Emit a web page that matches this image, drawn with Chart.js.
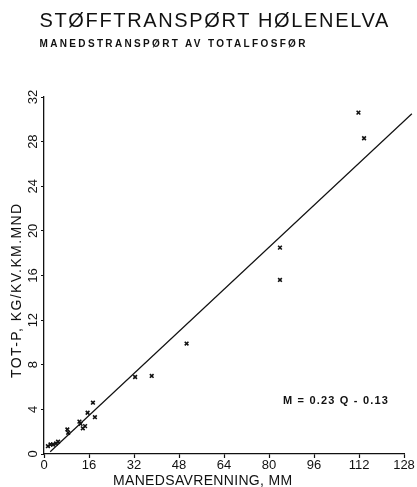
<!DOCTYPE html>
<html>
<head>
<meta charset="utf-8">
<script src="https://cdn.jsdelivr.net/npm/chart.js@4.4.0/dist/chart.umd.min.js"></script>
<style>
  html, body { margin: 0; padding: 0; background: #fff; }
  #wrap { position: relative; width: 417px; height: 487px; overflow: hidden; background: #fff; }
  #chart { position: absolute; left: 0; top: 0; }
  .txt { position: absolute; white-space: pre; color: #111; line-height: 1;
         font-family: "Liberation Sans", Arial, sans-serif; }
</style>
</head>
<body>
<div id="wrap">
  <canvas id="chart" width="417" height="487"></canvas>
  <div class="txt" id="title">STØFFTRANSPØRT HØLENELVA</div>
  <div class="txt" id="subtitle">MANEDSTRANSPØRT AV TOTALFOSFØR</div>
  <div class="txt" id="ytitle">TOT-P, KG/KV.KM.MND</div>
  <div class="txt" id="xtitle">MANEDSAVRENNING, MM</div>
  <div class="txt" id="formula">M = 0.23 Q - 0.13</div>
</div>
<script>
// monthly runoff (mm) and total phosphorus transport (kg/km2 per month)
const avrenning = [111.8, 113.8, 83.9, 83.9, 50.7, 38.3, 32.4, 17.4, 15.5, 18.1,
                   12.6, 13.0, 14.6, 13.8, 8.3, 8.6, 1.4, 2.3, 3.2, 4.3, 5.0];
const fosfor    = [30.6, 28.3, 18.5, 15.6, 9.9, 7.0, 6.9, 4.6, 3.7, 3.3,
                   2.9, 2.7, 2.5, 2.3, 2.2, 1.9, 0.7, 0.85, 0.85, 0.95, 1.1];

// regression line end points, as drawn
const linjeQ = [2.2, 130.8];
const linjeM = [0.2, 30.5];

const xTicks = [0, 16, 32, 48, 64, 80, 96, 112, 128];
const yTicks = [0, 4, 8, 12, 16, 20, 24, 28, 32];

const ink = '#111';
const tickFont = { family: '"Liberation Sans", Arial, sans-serif', size: 13 };

const punkter = avrenning.map((q, i) => ({ x: q, y: fosfor[i] }));
const linje = linjeQ.map((q, i) => ({ x: q, y: linjeM[i] }));

new Chart(document.getElementById('chart'), {
    type: 'scatter',
    data: {
        datasets: [{
            label: 'Månedstransport',
            data: punkter,
            pointStyle: 'crossRot',
            pointRadius: 2.6,
            borderWidth: 1.6,
            borderColor: ink,
            backgroundColor: ink
        }, {
            type: 'line',
            label: 'M = 0.23 Q - 0.13',
            data: linje,
            borderColor: ink,
            borderWidth: 1.2,
            pointRadius: 0,
            fill: false,
            clip: false
        }]
    },
    options: {
        responsive: false,
        animation: false,
        devicePixelRatio: 1,
        layout: { padding: { left: 0, right: 13, top: 97, bottom: 0 } },
        plugins: { legend: { display: false }, tooltip: { enabled: false } },
        scales: {
            x: {
                type: 'linear', min: 0, max: 128,
                afterBuildTicks: s => { s.ticks = xTicks.map(v => ({ value: v })); },
                afterFit: s => { s.height = 33; },
                border: { color: ink, width: 1.3 },
                grid: { drawOnChartArea: false, tickLength: 4, color: ink, tickWidth: 1.2 },
                ticks: { color: ink, font: tickFont, padding: 0, minRotation: 0, maxRotation: 0 }
            },
            y: {
                type: 'linear', min: 0, max: 32,
                afterBuildTicks: s => { s.ticks = yTicks.map(v => ({ value: v })); },
                afterFit: s => { s.width = 44; },
                border: { color: ink, width: 1.3 },
                grid: { drawOnChartArea: false, tickLength: 3, color: ink, tickWidth: 1.2 },
                ticks: { color: ink, font: tickFont, padding: 0, minRotation: 90, maxRotation: 90, crossAlign: 'center' }
            }
        }
    }
});

// place the texts, stretching letter spacing to the widths of the original
function place(id, o) {
    const el = document.getElementById(id);
    el.style.fontSize = o.size + 'px';
    if (o.bold) el.style.fontWeight = 'bold';
    const n = el.textContent.length;
    const w0 = el.offsetWidth;
    const ls = (o.width - w0) / (n - 1);
    el.style.letterSpacing = ls + 'px';
    if (o.rotate) {
        el.style.transformOrigin = '0 0';
        el.style.transform = 'rotate(-90deg)';
        el.style.left = (o.cx - o.size / 2) + 'px';
        el.style.top = (o.cy + o.width / 2) + 'px';
    } else {
        el.style.left = o.left + 'px';
        el.style.top = o.top + 'px';
    }
}

place('title',    { left: 39.5, top: 10.4, width: 349, size: 20 });
place('subtitle', { left: 39.5, top: 38.8, width: 266, size: 10, bold: true });
place('xtitle',   { left: 113,  top: 473,  width: 179, size: 14 });
place('ytitle',   { cx: 16, cy: 291, width: 174, size: 14, rotate: true });
place('formula',  { left: 283,  top: 395,  width: 105, size: 11, bold: true });
</script>
</body>
</html>
